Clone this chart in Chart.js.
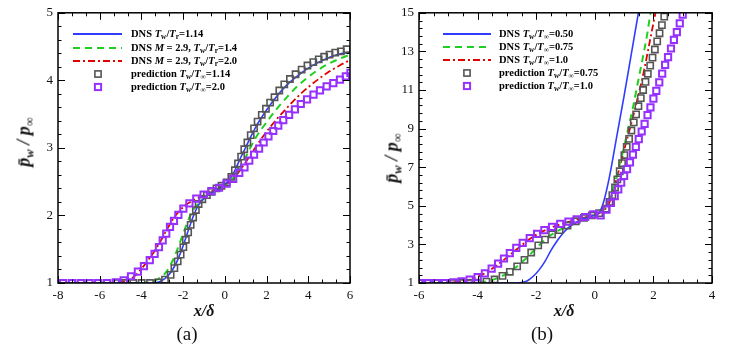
<!DOCTYPE html>
<html>
<head>
<meta charset="utf-8">
<script src="https://cdn.jsdelivr.net/npm/chart.js@4.4.1/dist/chart.umd.min.js"></script>
<style>
body { margin: 0; background: #fff; width: 746px; height: 351px; overflow: hidden; position: relative; font-family: "Liberation Serif", "Times New Roman", serif; }
canvas { position: absolute; top: 0; }
.t { position: absolute; white-space: nowrap; color: #111; }
.ytitle { font-weight: bold; font-style: italic; font-size: 18px; transform: translate(-50%, -50%) rotate(-90deg); }
.xtitle { font-weight: bold; font-style: italic; font-size: 16px; transform: translate(-50%, -50%); }
.cap { font-size: 19px; transform: translate(-50%, -50%); }
.leg { position: absolute; font-weight: bold; font-size: 10.5px; line-height: 14px; white-space: nowrap; color: #000; }
.leg i { font-style: italic; }
sub { font-size: 70%; vertical-align: -0.3em; line-height: 0; }
svg { position: absolute; overflow: visible; }
</style>
</head>
<body>
<canvas id="chartA" width="373" height="351" style="left:0"></canvas>
<canvas id="chartB" width="373" height="351" style="left:373px"></canvas>

<div class="t ytitle" style="left:24px;top:142px"><i>p&#772;</i><sub>w</sub> / <i>p</i><sub>&infin;</sub></div>
<div class="t ytitle" style="left:392px;top:158px"><i>p&#772;</i><sub>w</sub> / <i>p</i><sub>&infin;</sub></div>
<div class="t xtitle" style="left:204px;top:311px">x/&delta;</div>
<div class="t xtitle" style="left:564px;top:311px">x/&delta;</div>
<div class="t cap" style="left:187px;top:334px">(a)</div>
<div class="t cap" style="left:542px;top:334px">(b)</div>
<div id="legA"></div>
<div id="legB"></div>

<script>
// panel (a): wall pressure, x from -8 to 6
const xTicksA = [-8, -6, -4, -2, 0, 2, 4, 6];
const yTicksA = [1, 2, 3, 4, 5];

const dnsA114 = [[-8,1],[-3.5,1],[-3.2,1.01],[-3,1.04],[-2.75,1.1],[-2.5,1.2],[-2.25,1.35],[-2,1.55],[-1.75,1.78],[-1.5,2.0],[-1.25,2.16],[-1,2.25],[-0.5,2.36],[0,2.46],[0.25,2.54],[0.5,2.68],[0.75,2.85],[1,3.01],[1.25,3.17],[1.5,3.32],[2,3.56],[2.5,3.77],[3,3.94],[3.5,4.07],[4,4.18],[4.5,4.27],[5,4.34],[5.5,4.39],[6,4.42]];
const dnsA14 = [[-8,1],[-3.8,1],[-3.5,1.02],[-3.2,1.06],[-2.9,1.13],[-2.6,1.27],[-2.3,1.48],[-2,1.73],[-1.7,1.97],[-1.4,2.13],[-1.1,2.23],[-0.8,2.3],[-0.5,2.36],[0,2.45],[0.3,2.52],[0.6,2.64],[0.9,2.8],[1.2,2.99],[1.5,3.16],[2,3.38],[2.5,3.58],[3,3.76],[3.5,3.92],[4,4.05],[4.5,4.16],[5,4.25],[5.5,4.32],[6,4.38]];
const dnsA20 = [[-8,1],[-5.2,1],[-4.9,1.02],[-4.6,1.05],[-4.3,1.11],[-4,1.21],[-3.7,1.33],[-3.4,1.46],[-3.1,1.61],[-2.8,1.78],[-2.5,1.94],[-2.2,2.06],[-1.9,2.15],[-1.6,2.21],[-1.2,2.27],[-0.8,2.33],[-0.4,2.39],[0,2.45],[0.4,2.54],[0.8,2.7],[1.2,2.88],[1.6,3.07],[2,3.24],[2.5,3.43],[3,3.6],[3.5,3.76],[4,3.9],[4.5,4.02],[5,4.13],[5.5,4.22],[6,4.3]];
const predA114 = [[-7.75,1],[-7.33,1],[-6.91,1],[-6.49,1],[-6.07,1],[-5.65,1],[-5.23,1],[-4.79,1],[-4.39,1],[-3.99,1],[-3.59,1],[-3.2,1.01],[-2.87,1.05],[-2.6,1.12],[-2.42,1.22],[-2.26,1.32],[-2.12,1.42],[-1.99,1.53],[-1.87,1.64],[-1.76,1.75],[-1.64,1.86],[-1.52,1.97],[-1.39,2.08],[-1.26,2.17],[-1.08,2.24],[-0.86,2.3],[-0.63,2.35],[-0.4,2.4],[-0.16,2.44],[0.09,2.49],[0.31,2.57],[0.48,2.67],[0.63,2.77],[0.78,2.87],[0.93,2.98],[1.08,3.08],[1.24,3.19],[1.4,3.29],[1.57,3.39],[1.77,3.49],[1.97,3.58],[2.17,3.67],[2.38,3.75],[2.61,3.85],[2.85,3.94],[3.12,4.02],[3.39,4.09],[3.68,4.16],[3.96,4.22],[4.24,4.27],[4.5,4.31],[4.76,4.35],[5.02,4.38],[5.29,4.41],[5.56,4.43],[5.84,4.46]];
const predA20 = [[-7.75,1],[-7.33,1],[-6.91,1],[-6.49,1],[-6.07,1],[-5.65,1],[-5.23,1.01],[-4.85,1.04],[-4.5,1.1],[-4.17,1.17],[-3.88,1.25],[-3.6,1.34],[-3.37,1.43],[-3.16,1.53],[-2.98,1.63],[-2.81,1.73],[-2.63,1.83],[-2.44,1.92],[-2.23,2.01],[-1.99,2.1],[-1.7,2.18],[-1.37,2.25],[-1.02,2.31],[-0.65,2.36],[-0.28,2.41],[0.08,2.47],[0.4,2.54],[0.69,2.63],[0.94,2.71],[1.17,2.81],[1.4,2.9],[1.64,2.99],[1.86,3.08],[2.09,3.17],[2.32,3.25],[2.56,3.33],[2.8,3.41],[3.08,3.49],[3.36,3.57],[3.64,3.65],[3.94,3.72],[4.25,3.79],[4.56,3.85],[4.88,3.91],[5.2,3.96],[5.52,4.01],[5.8,4.06],[6.02,4.11]];

// panel (b): x from -6 to 4
const xTicksB = [-6, -4, -2, 0, 2, 4];
const yTicksB = [1, 3, 5, 7, 9, 11, 13, 15];

const dnsB050 = [[-6,1],[-2.8,1],[-2.5,1.03],[-2.3,1.12],[-2.1,1.35],[-1.9,1.68],[-1.7,2.12],[-1.5,2.68],[-1.3,3.15],[-1.1,3.55],[-0.9,3.87],[-0.6,4.17],[-0.3,4.37],[0,4.53],[0.15,4.65],[0.3,5.2],[0.5,6.5],[0.75,8.6],[1,10.7],[1.25,12.9],[1.5,15.1],[1.6,16]];
const dnsB075 = [[-6,1],[-4.5,1],[-4.2,1.01],[-3.9,1.04],[-3.6,1.12],[-3.3,1.27],[-3,1.5],[-2.7,1.8],[-2.4,2.2],[-2.1,2.65],[-1.8,3.1],[-1.5,3.48],[-1.2,3.75],[-0.9,3.98],[-0.6,4.2],[-0.3,4.38],[0,4.52],[0.2,4.65],[0.38,5],[0.65,6],[0.82,7],[0.99,8],[1.14,9],[1.29,10],[1.42,11],[1.55,12],[1.68,13],[1.8,14],[1.9,15],[1.95,15.5]];
const dnsB100 = [[-6,1],[-5.2,1],[-4.9,1.02],[-4.6,1.07],[-4.3,1.16],[-4,1.32],[-3.7,1.55],[-3.4,1.85],[-3.1,2.2],[-2.8,2.58],[-2.5,2.95],[-2.2,3.3],[-1.9,3.58],[-1.6,3.8],[-1.3,3.98],[-1,4.12],[-0.7,4.25],[-0.4,4.37],[-0.1,4.5],[0.15,4.62],[0.3,4.78],[0.45,5],[0.67,6],[0.85,7],[1.02,8],[1.2,9],[1.37,10],[1.53,11],[1.68,12],[1.81,13],[1.94,14],[2.07,15],[2.13,15.5]];
const predB075 = [[-6,1],[-5.72,1],[-5.43,1],[-5.15,1],[-4.86,1],[-4.58,1],[-4.29,1],[-4,1.02],[-3.7,1.07],[-3.42,1.18],[-3.15,1.37],[-2.9,1.58],[-2.65,1.86],[-2.4,2.2],[-2.17,2.58],[-1.93,2.95],[-1.7,3.25],[-1.46,3.52],[-1.2,3.74],[-0.93,3.98],[-0.65,4.2],[-0.37,4.37],[-0.1,4.5],[0.15,4.62],[0.38,4.85],[0.5,5.2],[0.6,5.55],[0.69,5.95],[0.77,6.37],[0.85,6.79],[0.93,7.21],[1.01,7.63],[1.09,8.05],[1.17,8.47],[1.25,8.9],[1.33,9.32],[1.41,9.74],[1.49,10.16],[1.57,10.58],[1.65,11],[1.73,11.42],[1.81,11.84],[1.89,12.26],[1.97,12.68],[2.05,13.1],[2.13,13.52],[2.21,13.94],[2.29,14.36],[2.37,14.8]];
const predB100 = [[-5.97,1],[-5.68,1],[-5.4,1],[-5.11,1],[-4.83,1.03],[-4.55,1.08],[-4.27,1.17],[-4,1.3],[-3.75,1.5],[-3.52,1.75],[-3.3,2],[-3.1,2.27],[-2.9,2.55],[-2.68,2.82],[-2.46,3.08],[-2.22,3.32],[-1.97,3.55],[-1.72,3.74],[-1.46,3.91],[-1.18,4.06],[-0.9,4.18],[-0.62,4.3],[-0.33,4.42],[-0.05,4.55],[0.2,4.5],[0.4,4.8],[0.55,5.15],[0.68,5.5],[0.8,5.85],[0.9,6.2],[1,6.55],[1.1,6.9],[1.2,7.25],[1.3,7.65],[1.4,8.05],[1.5,8.45],[1.6,8.85],[1.7,9.25],[1.8,9.7],[1.9,10.1],[2,10.55],[2.1,10.95],[2.2,11.4],[2.3,11.85],[2.4,12.3],[2.5,12.7],[2.6,13.15],[2.7,13.6],[2.8,14],[2.9,14.45],[3,14.9]];

const BLUE = '#2f3cff';
const GREEN = '#1fd01f';
const RED = '#e00000';
const GRAY = '#555555';
const PURPLE = '#9630ff';

const toXY = arr => arr.map(p => ({ x: p[0], y: p[1] }));

function lineSet(data, color, dash, width) {
    return {
        data: toXY(data),
        showLine: true,
        borderColor: color,
        borderWidth: width,
        borderDash: dash,
        pointRadius: 0,
        cubicInterpolationMode: 'monotone',
        order: 5
    };
}

function markSet(data, color, width, order) {
    return {
        data: toXY(data),
        showLine: false,
        pointStyle: 'rect',
        pointRadius: 4.4,
        pointBorderWidth: width,
        pointBorderColor: color,
        pointBackgroundColor: 'rgba(0,0,0,0)',
        order: order
    };
}

// frame and inward ticks on all four sides, like the original plot
const frameTicks = {
    id: 'frameTicks',
    afterDatasetsDraw(chart, args, opts) {
        const { ctx, chartArea: a, scales: { x, y } } = chart;
        ctx.save();
        ctx.strokeStyle = '#000';
        ctx.lineWidth = 1;
        ctx.beginPath();
        const eps = 1e-6;
        const drawX = (v, len) => {
            const px = Math.round(x.getPixelForValue(v)) + 0.5;
            ctx.moveTo(px, a.bottom); ctx.lineTo(px, a.bottom - len);
            ctx.moveTo(px, a.top); ctx.lineTo(px, a.top + len);
        };
        const drawY = (v, len) => {
            const py = Math.round(y.getPixelForValue(v)) + 0.5;
            ctx.moveTo(a.left, py); ctx.lineTo(a.left + len, py);
            ctx.moveTo(a.right, py); ctx.lineTo(a.right - len, py);
        };
        for (let v = x.min; v <= x.max + eps; v += opts.minorX) drawX(v, 3.5);
        for (let v = y.min; v <= y.max + eps; v += opts.minorY) drawY(v, 3.5);
        x.ticks.forEach(t => drawX(t.value, 7));
        y.ticks.forEach(t => drawY(t.value, 7));
        ctx.stroke();
        ctx.lineWidth = 1.5;
        ctx.strokeRect(a.left, a.top, a.width, a.height);
        ctx.restore();
    }
};

function makeChart(id, datasets, xTicks, yTicks, yAxisWidth, padRight, minorX, minorY) {
    return new Chart(document.getElementById(id).getContext('2d'), {
        type: 'scatter',
        data: { datasets: datasets },
        options: {
            responsive: false,
            animation: false,
            layout: { padding: { top: 9, right: padRight, left: 0, bottom: 0 } },
            plugins: {
                legend: { display: false },
                tooltip: { enabled: false },
                frameTicks: { minorX: minorX, minorY: minorY }
            },
            scales: {
                x: {
                    type: 'linear',
                    min: xTicks[0],
                    max: xTicks[xTicks.length - 1],
                    grid: { display: false, drawTicks: false },
                    border: { display: false },
                    afterBuildTicks: s => { s.ticks = xTicks.map(v => ({ value: v })); },
                    afterFit: s => { s.height = 68; },
                    ticks: { padding: 5, color: '#111', font: { family: 'Liberation Serif', size: 13 }, maxRotation: 0 }
                },
                y: {
                    type: 'linear',
                    min: yTicks[0],
                    max: yTicks[yTicks.length - 1],
                    grid: { display: false, drawTicks: false },
                    border: { display: false },
                    afterBuildTicks: s => { s.ticks = yTicks.map(v => ({ value: v })); },
                    afterFit: s => { s.width = yAxisWidth; },
                    ticks: { padding: 5, color: '#111', font: { family: 'Liberation Serif', size: 13 } }
                }
            }
        },
        plugins: [frameTicks]
    });
}

makeChart('chartA', [
    lineSet(dnsA114, BLUE, [], 1.6),
    lineSet(dnsA14, GREEN, [7, 5], 2),
    lineSet(dnsA20, RED, [7, 3, 2, 3], 1.8),
    markSet(predA114, GRAY, 1.6, 2),
    markSet(predA20, PURPLE, 2, 1)
], xTicksA, yTicksA, 58, 23, 2 / 3, 0.2);

makeChart('chartB', [
    lineSet(dnsB050, BLUE, [], 1.6),
    lineSet(dnsB075, GREEN, [7, 5], 2),
    lineSet(dnsB100, RED, [7, 3, 2, 3], 1.8),
    markSet(predB075, GRAY, 1.6, 2),
    markSet(predB100, PURPLE, 2, 1)
], xTicksB, yTicksB, 46, 34, 0.5, 0.4);

// legends (HTML so the italic subscripts stay real text)
const legendA = [
    ['line', BLUE, '', 'DNS <i>T</i><sub>w</sub>/<i>T</i><sub>r</sub>=1.14'],
    ['line', GREEN, '7 5', 'DNS <i>M</i> = 2.9, <i>T</i><sub>w</sub>/<i>T</i><sub>r</sub>=1.4'],
    ['line', RED, '7 3 2 3', 'DNS <i>M</i> = 2.9, <i>T</i><sub>w</sub>/<i>T</i><sub>r</sub>=2.0'],
    ['mark', GRAY, '', 'prediction <i>T</i><sub>w</sub>/<i>T</i><sub>&infin;</sub>=1.14'],
    ['mark', PURPLE, '', 'prediction <i>T</i><sub>w</sub>/<i>T</i><sub>&infin;</sub>=2.0']
];
const legendB = [
    ['line', BLUE, '', 'DNS <i>T</i><sub>w</sub>/<i>T</i><sub>&infin;</sub>=0.50'],
    ['line', GREEN, '7 5', 'DNS <i>T</i><sub>w</sub>/<i>T</i><sub>&infin;</sub>=0.75'],
    ['line', RED, '7 3 2 3', 'DNS <i>T</i><sub>w</sub>/<i>T</i><sub>&infin;</sub>=1.0'],
    ['mark', GRAY, '', 'prediction <i>T</i><sub>w</sub>/<i>T</i><sub>&infin;</sub>=0.75'],
    ['mark', PURPLE, '', 'prediction <i>T</i><sub>w</sub>/<i>T</i><sub>&infin;</sub>=1.0']
];

function buildLegend(boxId, items, x0, x1, xText, rows) {
    const box = document.getElementById(boxId);
    let html = '';
    items.forEach((it, i) => {
        const cy = rows[i];
        if (it[0] === 'line') {
            html += `<svg style="left:${x0}px;top:${cy - 5}px" width="${x1 - x0}" height="10"><line x1="0" y1="5" x2="${x1 - x0}" y2="5" stroke="${it[1]}" stroke-width="2" stroke-dasharray="${it[2]}"/></svg>`;
        } else {
            const cx = (x0 + x1) / 2;
            html += `<svg style="left:${cx - 5}px;top:${cy - 5}px" width="10" height="10"><rect x="1.9" y="1.9" width="6.2" height="6.2" fill="none" stroke="${it[1]}" stroke-width="${it[1] === PURPLE ? 2 : 1.6}"/></svg>`;
        }
        html += `<div class="leg" style="left:${xText}px;top:${cy - 7}px">${it[3]}</div>`;
    });
    box.innerHTML = html;
}

buildLegend('legA', legendA, 73, 122, 131, [34, 48, 61, 74, 87]);
buildLegend('legB', legendB, 443, 491, 499, [34, 47, 60, 73, 86]);
</script>
</body>
</html>
